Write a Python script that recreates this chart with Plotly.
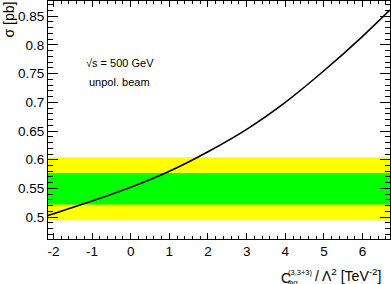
import plotly.graph_objects as go

# curve: sigma vs C/Lambda^2
c_vals = [-2.14, -2.0, -1.0, 0.0, 1.0, 2.0, 3.0, 4.0, 5.0, 6.0, 6.71]
sigma_vals = [0.503, 0.506, 0.528, 0.552, 0.580, 0.614, 0.653, 0.700, 0.755, 0.815, 0.861]

# bands (yellow: 2 sigma, green: 1 sigma)
yellow_band = [0.4945, 0.6045]
green_band = [0.522, 0.577]

x_ticks = [-2, -1, 0, 1, 2, 3, 4, 5, 6]
x_ticktext = ["-2", "-1", "0", "1", "2", "3", "4", "5", "6"]
y_ticks = [0.5, 0.55, 0.6, 0.65, 0.7, 0.75, 0.8, 0.85]
y_ticktext = ["0.5", "0.55", "0.6", "0.65", "0.7", "0.75", "0.8", "0.85"]

x_range = [-2.14, 6.71]
y_range = [0.462, 0.8765]

W, H = 391, 284
L, R, T, B = 48, 1, 1, 45
PW, PH = W - L - R, H - T - B


def px(x):
    return (x - L) / PW


def py(y):
    return (H - B - y) / PH


FONT = "Liberation Sans, Arial, Helvetica, sans-serif"

fig = go.Figure()
fig.add_trace(go.Scatter(x=c_vals, y=sigma_vals, mode="lines",
                         line=dict(color="black", width=1.6, shape="spline"),
                         showlegend=False, hoverinfo="skip"))

fig.add_shape(type="rect", xref="paper", yref="y", x0=0, x1=1,
              y0=yellow_band[0], y1=yellow_band[1], fillcolor="#ffff00",
              line=dict(width=0), layer="below")
fig.add_shape(type="rect", xref="paper", yref="y", x0=0, x1=1,
              y0=green_band[0], y1=green_band[1], fillcolor="#00ff00",
              line=dict(width=0), layer="below")

axis_common = dict(showline=True, linecolor="black", linewidth=1, mirror="ticks",
                   ticks="inside", tickcolor="black", tickwidth=1,
                   showgrid=False, zeroline=False, automargin=False,
                   tickfont=dict(family=FONT, size=13.5, color="black"))

fig.update_xaxes(range=x_range, tickmode="array", tickvals=x_ticks, ticktext=x_ticktext,
                 ticklen=6, minor=dict(dtick=0.2, tick0=0, ticklen=3, ticks="inside",
                                       tickcolor="black", showgrid=False),
                 **axis_common)
fig.update_yaxes(range=y_range, tickmode="array", tickvals=y_ticks, ticktext=y_ticktext,
                 ticklen=10, minor=dict(dtick=0.01, tick0=0, ticklen=5, ticks="inside",
                                        tickcolor="black", showgrid=False),
                 **axis_common)

ann = []
# y title
ann.append(dict(text="σ [pb]", xref="paper", yref="paper", x=px(8.5), y=py(0),
                xanchor="center", yanchor="top", textangle=-90, showarrow=False,
                font=dict(family=FONT, size=14, color="black")))
# x title pieces
ann.append(dict(text="C", xref="paper", yref="paper", x=px(279), y=py(277.5),
                xanchor="left", yanchor="middle", showarrow=False,
                font=dict(family=FONT, size=14, color="black")))
ann.append(dict(text="(3,3+3)", xref="paper", yref="paper", x=px(286), y=py(272),
                xanchor="left", yanchor="middle", showarrow=False,
                font=dict(family=FONT, size=7.5, color="black")))
ann.append(dict(text="φq", xref="paper", yref="paper", x=px(286), y=py(282),
                xanchor="left", yanchor="middle", showarrow=False,
                font=dict(family=FONT, size=8, color="black")))
ann.append(dict(text="/ Λ<sup>2</sup> [TeV<sup>-2</sup>]", xref="paper", yref="paper",
                x=px(383), y=py(275), xanchor="right", yanchor="middle", showarrow=False,
                font=dict(family=FONT, size=14, color="black")))
# info text
ann.append(dict(text="√s = 500 GeV", xref="paper", yref="paper", x=px(84), y=py(62.7),
                xanchor="left", yanchor="middle", showarrow=False,
                font=dict(family=FONT, size=11, color="black")))
ann.append(dict(text="unpol. beam", xref="paper", yref="paper", x=px(86.5), y=py(81.7),
                xanchor="left", yanchor="middle", showarrow=False,
                font=dict(family=FONT, size=11, color="black")))

fig.update_layout(width=W, height=H, margin=dict(l=L, r=R, t=T, b=B, pad=0, autoexpand=False),
                  paper_bgcolor="white", plot_bgcolor="white", annotations=ann,
                  showlegend=False)

fig.write_html("out.html", config={"displayModeBar": False},
               post_script="document.body.style.margin='0px';document.body.style.overflow='hidden';")
